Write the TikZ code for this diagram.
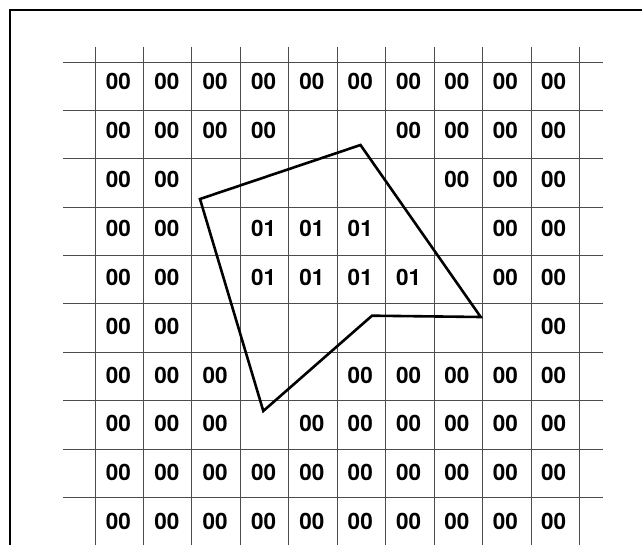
\documentclass[tikz,border=0pt]{standalone}
\usepackage{fontspec}
\setmainfont{TeX Gyre Heros}
\begin{document}
\begin{tikzpicture}[x=1pt,y=-1pt,
  gridline/.style={draw=black!70,line width=0.9pt},
  frameline/.style={draw=black,line width=1.2pt},
  shapeline/.style={draw=black,line width=2.6pt,line join=miter},
  cell/.style={font=\bfseries\fontsize{22.5}{25}\selectfont,inner sep=0pt}]
\useasboundingbox (0,0) rectangle (642,545);
% frame
\draw[frameline] (10,545) -- (10,10) -- (642,10);
% grid
\foreach \i in {0,...,10} {
  \draw[gridline] (95+48.45*\i,47) -- (95+48.45*\i,545);
}
\foreach \j in {0,...,9} {
  \draw[gridline] (63,62+48.37*\j) -- (603,62+48.37*\j);
}
% cell texts
\foreach \rowvals [count=\r from 0] in {
  {1,1,1,1,1,1,1,1,1,1},
  {1,1,1,1,0,0,1,1,1,1},
  {1,1,0,0,0,0,0,1,1,1},
  {1,1,0,2,2,2,0,0,1,1},
  {1,1,0,2,2,2,2,0,1,1},
  {1,1,0,0,0,0,0,0,0,1},
  {1,1,1,0,0,1,1,1,1,1},
  {1,1,1,0,1,1,1,1,1,1},
  {1,1,1,1,1,1,1,1,1,1},
  {1,1,1,1,1,1,1,1,1,1}} {
  \foreach \v [count=\c from 0] in \rowvals {
    \ifnum\v=1
      \node[cell] (t\r-\c) at (118.4+48.37*\c,81.6+48.9*\r) {00};
    \fi
    \ifnum\v=2
      \node[cell] (t\r-\c) at (118.4+48.37*\c,81.6+48.9*\r) {01};
    \fi
  }
}
% polygon
\coordinate (p1) at (200,199);
\coordinate (p2) at (360.5,145);
\coordinate (p3) at (480.7,317);
\coordinate (p4) at (372,315.7);
\coordinate (p5) at (263.3,411);
\draw[shapeline] (p1) -- (p2) -- (p3) -- (p4) -- (p5) -- cycle;
\end{tikzpicture}
\end{document}
